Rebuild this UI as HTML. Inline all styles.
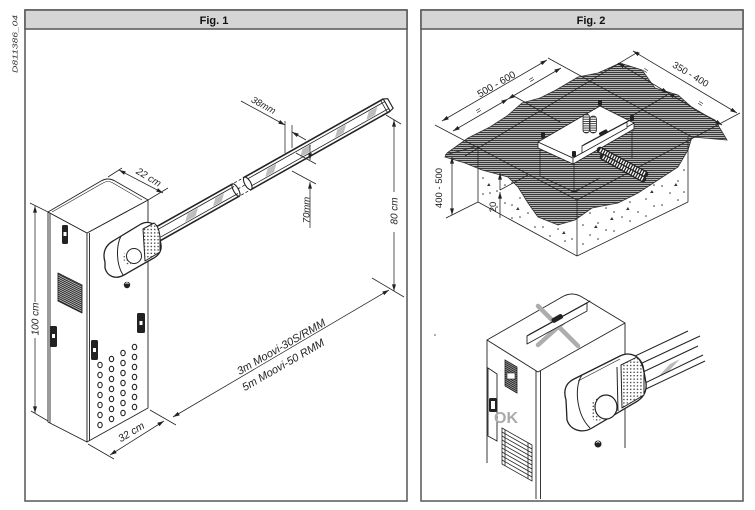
<!DOCTYPE html>
<html><head><meta charset="utf-8"><style>
html,body{margin:0;padding:0;background:#fff;}
svg{display:block;}
text{font-family:"Liberation Sans",Arial,sans-serif;}
</style></head><body>
<svg width="755" height="510" viewBox="0 0 755 510" xmlns="http://www.w3.org/2000/svg">
<defs>
<pattern id="hatch" width="4" height="2" patternUnits="userSpaceOnUse"><rect width="4" height="2" fill="#b4b4b4"/><rect width="4" height="1" fill="#3a3a3a"/></pattern>
<pattern id="slats" width="3" height="2" patternUnits="userSpaceOnUse" patternTransform="skewY(27)"><rect width="3" height="2" fill="#bbb"/><rect width="3" height="1" fill="#222"/></pattern>
<pattern id="slats2" width="3" height="2" patternUnits="userSpaceOnUse" patternTransform="skewY(30)"><rect width="3" height="2" fill="#999"/><rect width="3" height="1" fill="#222"/></pattern>
<pattern id="ribs" width="4" height="2.2" patternUnits="userSpaceOnUse"><rect width="4" height="2.2" fill="#fff"/><rect width="4" height="0.9" fill="#333"/></pattern>
<pattern id="dots" width="3.4" height="3.4" patternUnits="userSpaceOnUse"><rect width="3.4" height="3.4" fill="#fff"/><circle cx="1.7" cy="1.7" r="0.75" fill="#333"/></pattern>
<marker id="ar" viewBox="0 0 10 6" refX="10" refY="3" markerWidth="7" markerHeight="4" markerUnits="userSpaceOnUse" orient="auto-start-reverse"><path d="M0,0 L10,3 L0,6 z" fill="#222"/></marker>
</defs>

<text transform="translate(17.5,44) rotate(-90)" font-size="7.5" font-style="italic" text-anchor="middle" fill="#333" textLength="58" lengthAdjust="spacingAndGlyphs">D811386_04</text>

<rect x="25" y="10" width="382" height="491" fill="#fff" stroke="#555" stroke-width="1.5"/>
<rect x="25" y="10" width="382" height="19" fill="#d5d5d5" stroke="#555" stroke-width="1.5"/>
<text x="214" y="24" font-size="11" font-weight="bold" text-anchor="middle" fill="#111">Fig. 1</text>
<rect x="421" y="10" width="322" height="491" fill="#fff" stroke="#555" stroke-width="1.5"/>
<rect x="421" y="10" width="322" height="19" fill="#d5d5d5" stroke="#555" stroke-width="1.5"/>
<text x="591" y="24" font-size="11" font-weight="bold" text-anchor="middle" fill="#111">Fig. 2</text>

<!-- ================= FIG 1 ================= -->
<g stroke="#222" stroke-width="0.9" fill="#fff" stroke-linejoin="round">
  <path d="M48,212 L48,422 L87,442 L87,233 Z"/>
  <path d="M87,233 L148,200 L148,408 L87,442 Z"/>
  <path d="M48,212 L101,181 Q108,177 115,181 L148,200 L87,233 Z"/>
  <line x1="89.5" y1="233" x2="89.5" y2="441"/>
  <line x1="50" y1="213" x2="50" y2="423"/>
  <path d="M52,212 L103,183 Q108,180 113,183 L142,200" fill="none" stroke-width="0.6"/>
  <path d="M58,273 L82,285 L82,313 L58,301 Z" fill="url(#slats)"/>
</g>
<g fill="#222">
  <rect x="62" y="225" width="6" height="19" rx="1.5"/>
  <rect x="50" y="326" width="7" height="21" rx="1.5"/>
  <rect x="91" y="340" width="7" height="20" rx="1.5"/>
  <rect x="137" y="313" width="8" height="20" rx="1.5"/>
</g>
<g fill="#fff">
  <rect x="63.5" y="232" width="3" height="4"/>
  <rect x="52" y="334" width="3" height="4"/>
  <rect x="93" y="348" width="3" height="4"/>
  <rect x="139.5" y="321" width="3" height="4"/>
</g>
<g fill="none" stroke="#222" stroke-width="1.1">
  <ellipse cx="100" cy="365" rx="2.2" ry="2.7"/><ellipse cx="100" cy="375" rx="2.2" ry="2.7"/><ellipse cx="100" cy="385" rx="2.2" ry="2.7"/><ellipse cx="100" cy="395" rx="2.2" ry="2.7"/><ellipse cx="100" cy="405" rx="2.2" ry="2.7"/><ellipse cx="100" cy="415" rx="2.2" ry="2.7"/><ellipse cx="100" cy="425" rx="2.2" ry="2.7"/>
  <ellipse cx="111.5" cy="359" rx="2.2" ry="2.7"/><ellipse cx="111.5" cy="369" rx="2.2" ry="2.7"/><ellipse cx="111.5" cy="379" rx="2.2" ry="2.7"/><ellipse cx="111.5" cy="389" rx="2.2" ry="2.7"/><ellipse cx="111.5" cy="399" rx="2.2" ry="2.7"/><ellipse cx="111.5" cy="409" rx="2.2" ry="2.7"/><ellipse cx="111.5" cy="419" rx="2.2" ry="2.7"/>
  <ellipse cx="123" cy="353" rx="2.2" ry="2.7"/><ellipse cx="123" cy="363" rx="2.2" ry="2.7"/><ellipse cx="123" cy="373" rx="2.2" ry="2.7"/><ellipse cx="123" cy="383" rx="2.2" ry="2.7"/><ellipse cx="123" cy="393" rx="2.2" ry="2.7"/><ellipse cx="123" cy="403" rx="2.2" ry="2.7"/><ellipse cx="123" cy="413" rx="2.2" ry="2.7"/>
  <ellipse cx="134.5" cy="347" rx="2.2" ry="2.7"/><ellipse cx="134.5" cy="357" rx="2.2" ry="2.7"/><ellipse cx="134.5" cy="367" rx="2.2" ry="2.7"/><ellipse cx="134.5" cy="377" rx="2.2" ry="2.7"/><ellipse cx="134.5" cy="387" rx="2.2" ry="2.7"/><ellipse cx="134.5" cy="397" rx="2.2" ry="2.7"/><ellipse cx="134.5" cy="407" rx="2.2" ry="2.7"/>
</g>

<g transform="translate(243,178) rotate(-29.4)" stroke="#222" stroke-width="0.8" fill="none">
  <rect x="0" y="0" width="161" height="14" fill="#fff" stroke="none"/>
  <rect x="-112" y="0" width="100" height="14" fill="#fff" stroke="none"/>
  <g fill="#bdbdbd" stroke="none">
    <path d="M20,10 L26,4 L36,4 L30,10 Z"/>
    <path d="M60,10 L66,4 L76,4 L70,10 Z"/>
    <path d="M100,10 L106,4 L116,4 L110,10 Z"/>
    <path d="M136,10 L142,4 L152,4 L146,10 Z"/>
    <path d="M-72,10 L-66,4 L-54,4 L-60,10 Z"/>
    <path d="M-40,10 L-34,4 L-24,4 L-30,10 Z"/>
  </g>
  <line x1="0" y1="0" x2="161" y2="0" stroke-width="1.6"/>
  <line x1="0" y1="3" x2="161" y2="3"/>
  <line x1="0" y1="11" x2="161" y2="11"/>
  <line x1="0" y1="14" x2="161" y2="14" stroke-width="1.6"/>
  <path d="M161,0 L165,2 L165,13 L161,14 Z" fill="#fff" stroke-width="1.1"/>
  <line x1="158" y1="0" x2="158" y2="14"/>
  <ellipse cx="1.5" cy="7" rx="3" ry="7" fill="#fff" stroke-width="1.1"/>
  <line x1="-112" y1="0" x2="-12" y2="0" stroke-width="1.6"/>
  <line x1="-112" y1="3" x2="-12" y2="3"/>
  <line x1="-112" y1="11" x2="-12" y2="11"/>
  <line x1="-112" y1="14" x2="-12" y2="14" stroke-width="1.6"/>
  <ellipse cx="-12" cy="7" rx="2.5" ry="7" stroke-width="1.1"/>
  <g stroke-dasharray="3,2">
    <line x1="-10" y1="0" x2="0" y2="0"/>
    <line x1="-10" y1="7" x2="0" y2="7"/>
    <line x1="-10" y1="14" x2="0" y2="14"/>
  </g>
</g>

<g stroke="#222" stroke-width="1" stroke-linejoin="round">
  <path d="M105,262 C102,252 106,245 113,241 L141,224 C149,220 157,224 159,233 L161,245 C162,252 158,256 152,259 L124,275 C115,280 107,276 105,268 Z" fill="#fff" stroke-width="1.3"/>
  <path d="M121,236 C116,246 116,264 123,275" fill="none"/>
  <path d="M143,229 L154,223 C158,226 160,232 160,240 L160,252 L145,261 Z" fill="url(#dots)"/>
  <ellipse cx="128" cy="258" rx="4.5" ry="7.5" fill="url(#dots)" stroke="none"/>
  <circle cx="134" cy="256" r="7.5" fill="#fff"/>
</g>
<circle cx="127" cy="285" r="3.2" fill="#222"/>
<path d="M125.5,284 l1.5,-1.5 l1.5,1.5" stroke="#fff" stroke-width="0.8" fill="none"/>

<g stroke="#222" stroke-width="0.75" fill="none">
  <line x1="30" y1="203" x2="48" y2="212"/>
  <line x1="31" y1="411" x2="48" y2="421"/>
  <line x1="35" y1="206" x2="35" y2="302" marker-start="url(#ar)"/>
  <line x1="35" y1="338" x2="35" y2="413" marker-end="url(#ar)"/>
  <line x1="88" y1="444" x2="114" y2="459"/>
  <line x1="150" y1="410" x2="176" y2="425"/>
  <line x1="110" y1="455" x2="164" y2="421" marker-start="url(#ar)" marker-end="url(#ar)"/>
  <line x1="173" y1="417" x2="389" y2="290" marker-start="url(#ar)" marker-end="url(#ar)"/>
  <line x1="372" y1="278" x2="404" y2="297"/>
  <line x1="386" y1="115" x2="401" y2="124"/>
  <line x1="394" y1="120" x2="394" y2="192" marker-start="url(#ar)"/>
  <line x1="394" y1="232" x2="394" y2="291" marker-end="url(#ar)"/>
  <line x1="108" y1="177" x2="122" y2="168"/>
  <line x1="148" y1="200" x2="168" y2="188"/>
  <line x1="119" y1="170" x2="163" y2="193" marker-start="url(#ar)" marker-end="url(#ar)"/>
  <line x1="241" y1="101" x2="285" y2="125" marker-end="url(#ar)"/>
  <line x1="306" y1="140" x2="292" y2="132" marker-end="url(#ar)"/>
  <line x1="285" y1="121" x2="285" y2="153"/>
  <line x1="292" y1="125" x2="292" y2="148"/>
  <line x1="296" y1="153" x2="316" y2="164"/>
  <line x1="292" y1="171" x2="316" y2="184"/>
  <line x1="310" y1="145" x2="310" y2="160" marker-end="url(#ar)"/>
  <line x1="310" y1="228" x2="310" y2="182" marker-end="url(#ar)"/>
</g>
<g fill="#222" font-style="italic">
  <text transform="translate(38.5,319) rotate(-90)" font-size="10" text-anchor="middle">100 cm</text>
  <text transform="translate(133,435) rotate(-31)" font-size="10.5" text-anchor="middle">32 cm</text>
  <text transform="translate(283,350) rotate(-30)" font-size="11" text-anchor="middle">3m Moovi-30S/RMM</text>
  <text transform="translate(285,368) rotate(-30)" font-size="11" text-anchor="middle">5m Moovi-50 RMM</text>
  <text transform="translate(397.5,211) rotate(-90)" font-size="10" text-anchor="middle">80 cm</text>
  <text transform="translate(147,180) rotate(31)" font-size="10" text-anchor="middle">22 cm</text>
  <text transform="translate(262,108) rotate(29)" font-size="9.5" text-anchor="middle">38mm</text>
  <text transform="translate(309.5,210) rotate(-90)" font-size="9.5" text-anchor="middle">70mm</text>
</g>

<!-- ================= FIG 2 TOP ================= -->
<path d="M478,148 L577,200 L688,137 L688,202 L577,256 L478,202 Z" fill="#fff"/>
<g fill="#333">
  <circle cx="483" cy="178" r="0.8"/><circle cx="483" cy="194" r="0.8"/><circle cx="490" cy="172" r="0.8"/><circle cx="490" cy="193" r="0.8"/>
  <circle cx="497" cy="191" r="0.8"/><circle cx="497" cy="207" r="0.8"/><circle cx="505" cy="185" r="0.8"/><circle cx="505" cy="203" r="0.8"/>
  <circle cx="512" cy="183" r="0.8"/><circle cx="512" cy="205" r="0.8"/><circle cx="512" cy="218" r="0.8"/><circle cx="520" cy="198" r="0.8"/>
  <circle cx="520" cy="217" r="0.8"/><circle cx="528" cy="194" r="0.8"/><circle cx="528" cy="213" r="0.8"/><circle cx="535" cy="208" r="0.8"/>
  <circle cx="535" cy="227" r="0.8"/><circle cx="543" cy="205" r="0.8"/><circle cx="543" cy="227" r="0.8"/><circle cx="550" cy="219" r="0.8"/>
  <circle cx="550" cy="236" r="0.8"/><circle cx="558" cy="207" r="0.8"/><circle cx="558" cy="229" r="0.8"/><circle cx="565" cy="222" r="0.8"/>
  <circle cx="565" cy="241" r="0.8"/><circle cx="572" cy="220" r="0.8"/><circle cx="572" cy="239" r="0.8"/>
  <circle cx="583" cy="225" r="0.8"/><circle cx="583" cy="244" r="0.8"/><circle cx="590" cy="213" r="0.8"/><circle cx="590" cy="235" r="0.8"/>
  <circle cx="598" cy="223" r="0.8"/><circle cx="598" cy="239" r="0.8"/><circle cx="606" cy="208" r="0.8"/><circle cx="606" cy="230" r="0.8"/>
  <circle cx="614" cy="212" r="0.8"/><circle cx="614" cy="231" r="0.8"/><circle cx="622" cy="195" r="0.8"/><circle cx="622" cy="217" r="0.8"/>
  <circle cx="630" cy="202" r="0.8"/><circle cx="630" cy="221" r="0.8"/><circle cx="638" cy="190" r="0.8"/><circle cx="638" cy="212" r="0.8"/>
  <circle cx="646" cy="199" r="0.8"/><circle cx="646" cy="216" r="0.8"/><circle cx="654" cy="185" r="0.8"/><circle cx="654" cy="206" r="0.8"/>
  <circle cx="662" cy="186" r="0.8"/><circle cx="662" cy="205" r="0.8"/><circle cx="670" cy="172" r="0.8"/><circle cx="670" cy="193" r="0.8"/>
  <circle cx="678" cy="181" r="0.8"/><circle cx="678" cy="200" r="0.8"/><circle cx="684" cy="170" r="0.8"/><circle cx="684" cy="192" r="0.8"/>
  <path d="M487,186 l2,-3 l1.5,3 z"/><path d="M516,210 l2,-3 l1.5,3 z"/><path d="M546,214 l2,-3 l1.5,3 z"/><path d="M562,234 l2,-3 l1.5,3 z"/>
  <path d="M594,228 l2,-3 l1.5,3 z"/><path d="M626,210 l2,-3 l1.5,3 z"/><path d="M650,193 l2,-3 l1.5,3 z"/><path d="M674,186 l2,-3 l1.5,3 z"/><path d="M610,220 l2,-3 l1.5,3 z"/>
</g>

<path d="M447,153 L468,138 L490,127 L507,116 L522,103 L540,98 L556,90 L578,77 L598,73 L620,63 L642,70 L655,88 L678,95 L695,110 L715,120 L727,140 L692,137 L688,150 L678,167 L658,180 L638,193 L618,203 L592,208 L575,220 L558,225 L538,217 L528,203 L518,187 L508,177 L482,170 L465,163 L445,157 Z" fill="url(#hatch)" stroke="#333" stroke-width="0.8"/>

<g stroke="#222" stroke-width="0.8" fill="none">
  <line x1="435" y1="125" x2="577" y2="200"/>
  <line x1="577" y1="200" x2="740" y2="113"/>
  <line x1="465" y1="156" x2="638" y2="52"/>
  <line x1="548" y1="58" x2="692" y2="137"/>
  <line x1="512" y1="95" x2="560" y2="122"/>
  <line x1="667" y1="95" x2="630" y2="117"/>
  <line x1="478" y1="146" x2="478" y2="202"/>
  <line x1="577" y1="200" x2="577" y2="256"/>
  <line x1="688" y1="137" x2="688" y2="202"/>
  <line x1="478" y1="202" x2="577" y2="256"/>
  <line x1="577" y1="256" x2="688" y2="202"/>
  <line x1="445" y1="155" x2="478" y2="146"/>
  <line x1="446" y1="218" x2="478" y2="202"/>
  <line x1="452" y1="168" x2="452" y2="157" marker-end="url(#ar)"/>
  <line x1="452" y1="200" x2="452" y2="215" marker-end="url(#ar)"/>
  <line x1="452" y1="168" x2="452" y2="200"/>
  <line x1="500" y1="190" x2="528" y2="175"/>
  <line x1="500" y1="218" x2="500" y2="192" marker-end="url(#ar)"/>
  <line x1="500" y1="190" x2="500" y2="173" marker-end="url(#ar)"/>
  <line x1="442" y1="121" x2="547" y2="60" marker-start="url(#ar)" marker-end="url(#ar)"/>
  <line x1="453" y1="131" x2="508" y2="99" marker-start="url(#ar)" marker-end="url(#ar)"/>
  <line x1="508" y1="99" x2="561" y2="68" marker-start="url(#ar)" marker-end="url(#ar)"/>
  <line x1="633" y1="51" x2="737" y2="113" marker-start="url(#ar)" marker-end="url(#ar)"/>
  <line x1="618" y1="63" x2="668" y2="93" marker-start="url(#ar)" marker-end="url(#ar)"/>
  <line x1="668" y1="93" x2="722" y2="125" marker-start="url(#ar)" marker-end="url(#ar)"/>
</g>
<g fill="#222">
  <text transform="translate(498,87) rotate(-30)" font-size="10" text-anchor="middle">500 - 600</text>
  <text transform="translate(480,113) rotate(-30)" font-size="9" text-anchor="middle">=</text>
  <text transform="translate(533,82) rotate(-30)" font-size="9" text-anchor="middle">=</text>
  <text transform="translate(689,77) rotate(31)" font-size="9.5" text-anchor="middle">350 - 400</text>
  <text transform="translate(644,73) rotate(31)" font-size="9" text-anchor="middle">=</text>
  <text transform="translate(699,106) rotate(31)" font-size="9" text-anchor="middle">=</text>
  <text transform="translate(442,188) rotate(-90)" font-size="9.5" text-anchor="middle">400 - 500</text>
  <text transform="translate(496,207) rotate(-90)" font-size="9.5" text-anchor="middle">20</text>
</g>

<g stroke="#222" stroke-width="0.8" fill="none">
  <line x1="540" y1="147" x2="540" y2="176"/>
  <line x1="574" y1="163" x2="574" y2="192"/>
  <line x1="632" y1="129" x2="632" y2="158"/>
  <line x1="540" y1="176" x2="574" y2="192"/>
  <line x1="574" y1="192" x2="600" y2="178"/>
  <path d="M571,192 L577,192 L577,189"/>
</g>
<g stroke="#222" stroke-width="0.8" stroke-linejoin="round">
  <path d="M538,142 L573,158 L573,164 L538,148 Z" fill="#fff"/>
  <path d="M573,158 L634,123 L634,129 L573,164 Z" fill="#fff"/>
  <path d="M538,142 L600,106 L634,123 L573,158 Z" fill="#fff"/>
  <line x1="600" y1="150" x2="645" y2="174" stroke="#222" stroke-width="6.5" stroke-linecap="round"/>
  <line x1="600" y1="150" x2="645" y2="174" stroke="#fff" stroke-width="4" stroke-dasharray="1.3 1.3"/>
  <line x1="603" y1="157" x2="643" y2="179" stroke="#222" stroke-width="6.5" stroke-linecap="round"/>
  <line x1="603" y1="157" x2="643" y2="179" stroke="#fff" stroke-width="4" stroke-dasharray="1.3 1.3"/>
  <path d="M582,146 L627,122 L627,128 L582,153 Z" fill="#fff"/>
  <path d="M582,146 L585,144 L630,120 L627,122 Z" fill="#fff"/>
  <rect x="583" y="114" width="6.5" height="19" rx="3" fill="url(#ribs)"/>
  <rect x="590" y="116" width="6.5" height="17" rx="3" fill="url(#ribs)"/>
</g>
<g fill="#222">
  <rect x="598" y="100" width="4" height="6" rx="1"/>
  <rect x="541" y="132" width="4" height="6" rx="1"/>
  <rect x="630" y="115" width="4" height="6" rx="1"/>
  <rect x="572" y="151" width="4" height="6" rx="1"/>
  <rect x="599" y="131" width="9" height="4" rx="1.5" transform="rotate(-28 603 133)"/>
</g>

<!-- ================= FIG 2 BOTTOM ================= -->
<circle cx="435" cy="335" r="0.8" fill="#555"/>
<g stroke="#222" stroke-width="0.9" fill="#fff" stroke-linejoin="round">
  <path d="M487,340 L538,372 L538,500 L487,500 Z" stroke="none"/>
  <path d="M538,372 L625,323 L625,448 L538,500 Z" stroke="none"/>
  <path d="M487,340 L562,297 Q572,291 582,297 L625,323 L538,372 Z"/>
  <line x1="487" y1="340" x2="487" y2="463"/>
  <line x1="536" y1="371" x2="536" y2="499"/>
  <line x1="540.5" y1="371" x2="540.5" y2="499"/>
  <line x1="625" y1="323" x2="625" y2="448"/>
</g>
<g stroke="#adadad" stroke-width="4.5" stroke-linecap="round">
  <line x1="538" y1="306" x2="578" y2="346"/>
  <line x1="538" y1="345" x2="576" y2="311"/>
</g>
<g stroke="#222" stroke-width="0.9" fill="#fff" stroke-linejoin="round">
  <path d="M527,336 L587,303 L587,311 L527,344 Z"/>
  <path d="M527,336 L530,334 L590,301 L587,303 Z"/>
</g>
<rect x="551" y="316" width="12" height="5" rx="2" fill="#222" transform="rotate(-29 557 318)"/>
<path d="M488,368 L497,374 L497,441 L488,436 Z" fill="#fff" stroke="#222" stroke-width="0.9"/>
<rect x="489" y="398" width="8" height="14" rx="1.5" fill="#222"/>
<rect x="491" y="401" width="4" height="8" fill="#fff"/>
<text x="494" y="423" font-size="16" font-weight="bold" fill="#aaa">OK</text>
<path d="M505,360 L517,367 L517,393 L505,386 Z" fill="url(#slats2)" stroke="#222" stroke-width="0.8"/>
<rect x="507" y="373" width="8" height="6" fill="#fff" stroke="#222" stroke-width="0.6"/>
<g stroke="#222" stroke-width="0.8" fill="none">
  <path d="M502,428 L532,445 L532,481 L502,464 Z" fill="#fff"/>
  <line x1="502" y1="432" x2="532" y2="449"/>
  <line x1="502" y1="436" x2="532" y2="453"/>
  <line x1="502" y1="440" x2="532" y2="457"/>
  <line x1="502" y1="444" x2="532" y2="461"/>
  <line x1="502" y1="448" x2="532" y2="465"/>
  <line x1="502" y1="452" x2="532" y2="469"/>
  <line x1="502" y1="456" x2="532" y2="473"/>
  <line x1="502" y1="460" x2="532" y2="477"/>
  <line x1="528" y1="443" x2="528" y2="479"/>
  <line x1="505" y1="430" x2="505" y2="466"/>
</g>
<g stroke="#222" stroke-width="1" fill="none">
  <path d="M658,377 L670,364 L680,359 L668,372 Z" fill="#bbb" stroke="none"/>
  <line x1="633" y1="357" x2="688" y2="331"/>
  <line x1="640" y1="364" x2="700" y2="336"/>
  <line x1="643" y1="372" x2="698" y2="346"/>
  <line x1="645" y1="383" x2="703" y2="355"/>
  <line x1="646" y1="389" x2="705" y2="361"/>
</g>
<g stroke="#222" stroke-width="1" stroke-linejoin="round">
  <path d="M566,400 C563,390 566,383 574,379 L620,356 C630,351 640,356 643,366 L646,383 C647,392 643,398 636,402 L592,428 C582,434 570,430 567,420 Z" fill="#fff" stroke-width="1.3"/>
  <path d="M582,375 C574,386 576,414 590,428" fill="none"/>
  <path d="M578,381 L620,359" fill="none" stroke-width="0.7"/>
  <path d="M621,365 L637,357 C641,361 643,366 644,373 L644,395 L622,408 Z" fill="url(#dots)"/>
  <line x1="617" y1="367" x2="618" y2="411"/>
  <ellipse cx="597" cy="410" rx="6" ry="12" fill="url(#dots)" stroke="none"/>
  <ellipse cx="606" cy="407" rx="11" ry="12" fill="#fff" stroke-width="1.2"/>
</g>
<circle cx="598" cy="444" r="3.5" fill="#222"/>
<path d="M596.3,443 l1.7,-1.7 l1.7,1.7" stroke="#fff" stroke-width="0.8" fill="none"/>
</svg>
</body></html>
